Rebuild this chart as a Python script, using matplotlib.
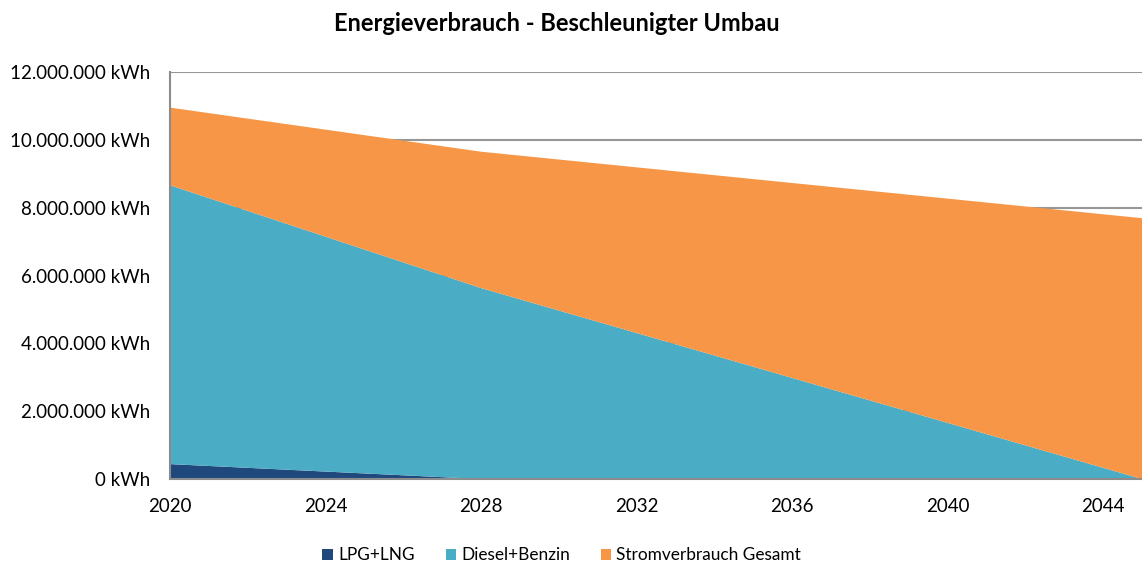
import matplotlib.pyplot as plt
from matplotlib.ticker import FuncFormatter

plt.rcParams['font.family'] = ['Lato', 'DejaVu Sans']

# data (kWh)
years = [2020, 2028, 2045]
lpg_lng = [440000, 0, 0]
diesel_benzin = [8220000, 5630000, 0]
strom_gesamt = [2290000, 4020000, 7690000]

labels = ['LPG+LNG', 'Diesel+Benzin', 'Stromverbrauch Gesamt']
colors = ['#1F497D', '#4BACC6', '#F79646']

fig = plt.figure(figsize=(11.42, 5.70), dpi=100)
ax = fig.add_axes([0.1489, 0.1596, 0.8511, 0.7141])

ax.stackplot(years, lpg_lng, diesel_benzin, strom_gesamt,
             labels=labels, colors=colors, linewidth=0, zorder=2)

ax.set_xlim(2020, 2045)
ax.set_ylim(0, 12000000)
ax.set_xticks(range(2020, 2045, 4))
ax.set_yticks(range(0, 12000001, 2000000))
ax.yaxis.set_major_formatter(
    FuncFormatter(lambda v, p: '{:,.0f} kWh'.format(v).replace(',', '.')))

ax.grid(axis='y', color='#969696', linewidth=1.5, zorder=0)
ax.set_axisbelow(True)
for s in ['top', 'right']:
    ax.spines[s].set_visible(False)
for s in ['left', 'bottom']:
    ax.spines[s].set_color('#8c8c8c')
    ax.spines[s].set_linewidth(1.5)
    ax.spines[s].set_zorder(3)
ax.tick_params(length=0, labelsize=13.5, colors='black')
ax.tick_params(axis='y', pad=14)
ax.tick_params(axis='x', pad=14)

fig.text(0.4877, 0.958, 'Energieverbrauch - Beschleunigter Umbau',
         ha='center', va='center', fontsize=17, fontweight='bold')

fig.legend(loc='center', bbox_to_anchor=(0.492, 0.026), ncol=3, frameon=False,
           fontsize=12.4, handlelength=0.6, handleheight=0.6, handletextpad=0.3,
           columnspacing=1.8)

fig.savefig('out.png', dpi=100)
